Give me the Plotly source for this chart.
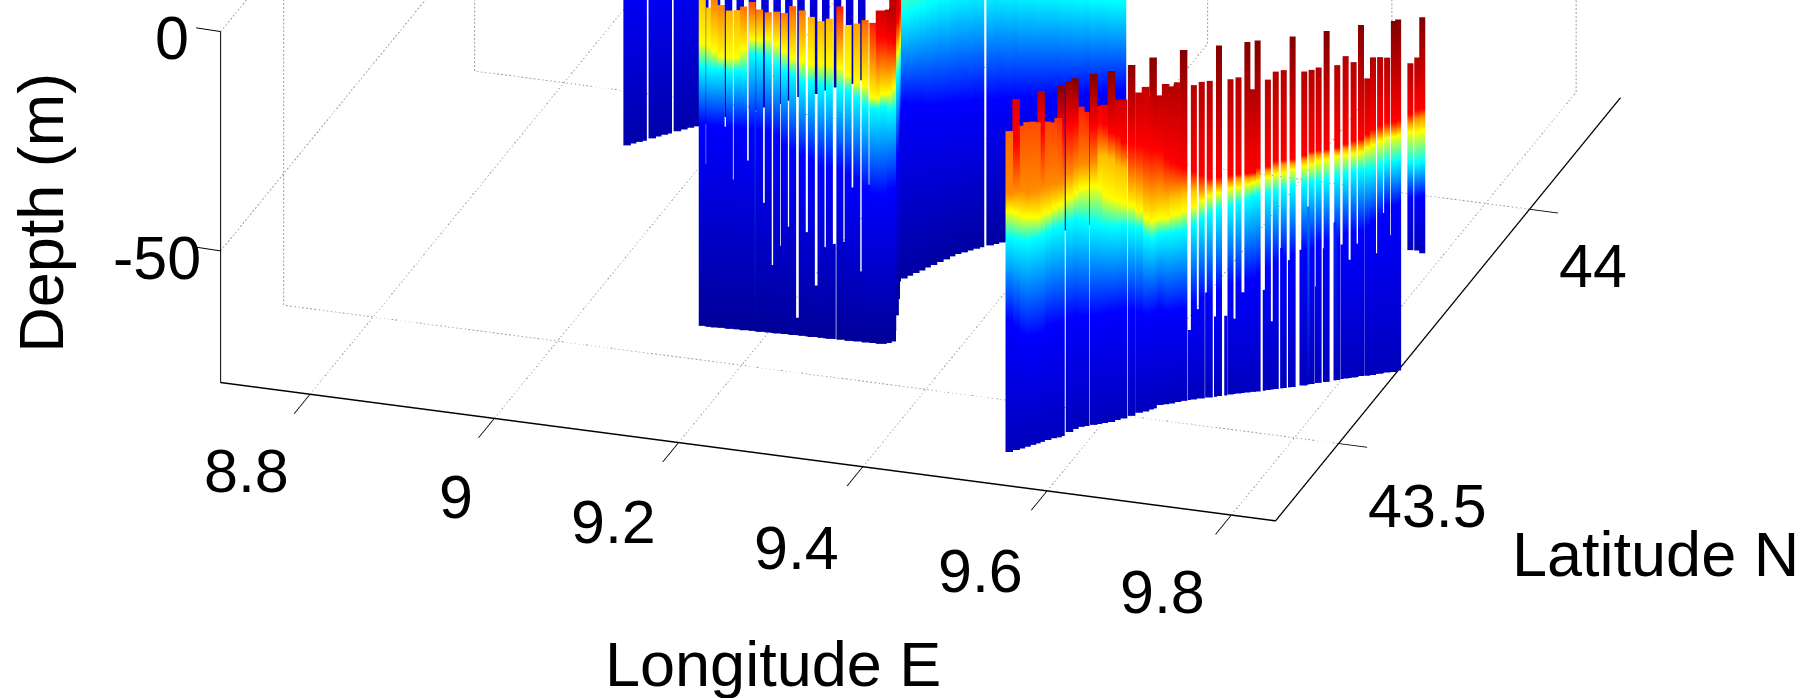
import numpy as np
import plotly.graph_objects as go

# ---- axes ----
X_RANGE = [8.703, 9.848]
Y_RANGE = [43.335, 44.238]
Z_RANGE = [-80, 0]
X_TICKS = [8.8, 9.0, 9.2, 9.4, 9.6, 9.8]
X_LABELS = ["8.8", "9", "9.2", "9.4", "9.6", "9.8"]
Y_TICKS = [43.5, 44.0]
Y_LABELS = ["43.5", "44"]
Z_TICKS = [-50, 0]
Z_LABELS = ["-50", "0"]

# ---- front transect ----
C_lon = [9.532,9.537,9.541,9.545,9.549,9.552,9.555,9.560,9.564,9.568,9.570,9.575,9.578,9.582,9.586,9.593,9.597,9.602,9.608,9.612,9.617,9.623,9.628,9.633,9.636,9.638,9.642,9.647,9.652,9.657,9.662,9.671,9.678,9.685,9.693,9.703,9.710,9.718,9.723,9.727,9.736,9.743,9.750,9.758,9.768,9.774,9.780,9.787,9.796,9.803,9.810,9.816,9.822,9.827,9.833,9.839,9.845,9.848,9.848,9.848,9.848]
C_lat = [43.400,43.406,43.410,43.415,43.420,43.424,43.428,43.433,43.438,43.441,43.444,43.454,43.461,43.467,43.470,43.474,43.477,43.480,43.484,43.489,43.494,43.501,43.509,43.513,43.518,43.521,43.529,43.532,43.535,43.539,43.543,43.548,43.552,43.556,43.561,43.567,43.571,43.575,43.578,43.580,43.585,43.589,43.593,43.597,43.603,43.608,43.612,43.616,43.622,43.627,43.631,43.636,43.638,43.641,43.645,43.649,43.652,43.656,43.688,43.706,43.719]
C_top = [-6.8,0.5,-6.4,-6,-6.3,-6.8,0.9,-7.4,-8,-7.2,0.5,1.6,0,-7,-8.4,0,-7.5,-7.4,0.9,-7,-7.3,1.4,-7,-6,-8.7,1,-9.4,-7,-7.7,-7.1,0.7,-8.3,-7.8,-7.8,0.3,-8.1,-7.9,0.2,-11,0.2,-9.2,-7.6,-7.5,0.5,-8.4,-8.4,-8.1,0.3,-8.2,-6.5,-8.1,0.7,-12.2,-7.6,-7.8,-8.2,0,0.2,-13.4,-14,-6.2]
C_ttop = [.77,.9,.8,.8,.8,.8,.95,.81,.81,.83,1,1,1,.85,.85,1,.88,.9,1,.92,.92,1,.93,.93,.93,1,.94,.95,.95,.95,1,.95,.95,.95,1,.95,.95,1,.95,1,.95,.95,.95,1,.95,.95,.95,1,.95,.95,.95,1,.94,.95,.95,.95,1,1,.95,.95,1]
C_zr = [-6.8,-10,-6.4,-6,-6.3,-6.8,-9,-7.4,-8,-7.2,-10,-10,-10,-7,-8.4,-12,-11,-12,-14,-15,-17,-18,-19,-20,-21,-21,-22,-24,-25,-26,-27,-28,-29,-30,-30,-30,-30,-30,-30,-29,-29,-28,-28,-28,-27.5,-27,-27,-27,-27,-26.5,-26,-26,-25,-24,-23.5,-23,-23,-23,-25,-26,-27]
C_zo = [-21,-21,-21,-22,-22,-22,-22,-22,-22,-22,-22,-21,-20,-20,-20,-20,-19,-19,-20,-22,-23,-29,-30.5,-32.5,-33.5,-33.5,-33.8,-34,-33.5,-33.5,-33,-32.5,-32.5,-32,-32,-31.5,-31,-31,-31,-30.5,-30,-29.5,-29,-29,-28.5,-28,-28,-28,-28,-27.5,-27.5,-27.5,-26.5,-26,-25.5,-25,-25,-25,-27,-28,-29]
C_to = [.74]*16 + [.69]*5 + [.68]*11 + [.73]*29
C_zy = [-25,-26,-27,-27.5,-28,-28.5,-28,-28,-27.5,-27,-27,-26.5,-26,-25.5,-25.5,-25.5,-26,-28,-29,-30,-31,-32,-34,-36,-37,-37,-37.3,-37.5,-37,-37,-36.5,-36,-35,-34,-33.6,-33,-33,-32.5,-32.3,-32,-31.5,-31,-31,-30.4,-30,-30,-29.5,-29.3,-29,-29,-29,-29,-28,-27.5,-27,-26.5,-26.3,-26.3,-29,-31,-32]
C_zc = [-31,-32,-32.5,-33,-33,-33,-33,-32.5,-32,-32,-32,-32,-32,-33,-33.5,-34,-34.5,-35,-35.5,-36,-36,-37,-38,-40,-41,-41,-41,-41,-41,-41,-41,-40,-39,-38,-37.4,-37,-36.5,-36,-35.4,-35.2,-35,-35,-34.5,-34.2,-34,-34,-34,-34,-33.5,-33.5,-33,-33,-33,-33,-32.5,-32,-32,-32,-36,-38,-39]
C_zb = [-50,-52,-54,-55,-55,-55,-55,-54,-54,-54,-54,-54,-54,-55,-55,-55,-55,-55,-55,-55,-55,-56,-57,-58,-58,-58,-58,-59,-59,-59,-59,-58,-57,-57,-56,-55,-55,-54,-54,-53,-52,-51,-50,-50,-49,-49,-48,-48,-48,-47,-47,-47,-46,-45,-44,-42,-42,-42,-44,-46,-47]
C_bot = [-80]*58 + [-56,-58,-60]
C_SPLIT = 31

# deep parts of the front transect that close the gaps between its casts
CF_lon = [9.667,9.674,9.682,9.690,9.699,9.706,9.714,9.733,9.740,9.748,9.755,9.765,9.771,9.778,9.785,9.794,9.800,9.807,9.813,9.824,9.830,9.835,9.841]
CF_lat = [43.546,43.551,43.555,43.559,43.564,43.569,43.573,43.583,43.587,43.592,43.596,43.602,43.606,43.611,43.615,43.621,43.625,43.629,43.633,43.640,43.644,43.647,43.650]
CF_top = [-64,-59.6,-56,-61.7,-61.8,-62.8,-57,-57,-64.4,-48,-51,-49,-39.4,-58,-49.5,-44,-49.3,-53,-49.6,-48.3,-52.5,-43.5,-48.7]
CF_t = [.105,.12,.125,.11,.105,.10,.12,.115,.09,.125,.125,.125,.24,.10,.125,.16,.125,.11,.125,.125,.105,.125,.12]

# ---- middle transect, west-east part ----
B_lon = [9.130,9.138,9.143,9.150,9.159,9.167,9.174,9.183,9.191,9.200,9.209,9.217,9.226,9.236,9.246,9.256,9.265,9.276,9.285,9.294,9.303,9.311,9.318,9.322,9.326,9.329,9.321,9.311,9.299,9.286]
B_lat = [43.566,43.566,43.566,43.567,43.567,43.568,43.568,43.569,43.569,43.570,43.570,43.571,43.571,43.572,43.572,43.573,43.573,43.574,43.574,43.575,43.575,43.576,43.576,43.577,43.580,43.584,43.604,43.635,43.667,43.701]
B_top = [-5,-7.2,-5,-6.4,-7.4,-7.2,-6.2,-5,-6.5,-7,-6.6,-6.8,-5,-5.8,-7,-7.8,-7,-4,-8,-7.5,-6.5,-7,-4,-4,-4,-4,-4,-4,-4,-4]
B_ttop = [.68,.68,.75,.75,.7,.7,.76,.8,.76,.76,.76,.76,.78,.76,.7,.7,.7,.85,.67,.72,.78,.85,.92,.92,.95,.95,.95,.95,.95,.95]
B_zr = [-5,-7.2,-5,-6.4,-7.4,-7.2,-6.2,-5,-6.5,-7,-6.6,-6.8,-5,-5.8,-7,-7.8,-7,-4,-8,-7.5,-6.5,-7,-10,-10,-11,-12,-13,-13,-15,-18]
B_zy = [-15.5,-16,-17,-18.2,-18,-18,-16,-13.5,-13.5,-13,-14,-15.4,-16.8,-17.3,-17.8,-17.5,-17.4,-18,-19.5,-21,-21.5,-24,-24,-23,-23,-22,-20,-20,-22.4,-25]
B_zc = [-21,-21,-21,-21,-21.5,-21,-21,-17,-17,-17.5,-18.7,-20,-20.6,-22,-22,-22.5,-22.7,-23,-23,-24.5,-26,-26.5,-26.5,-26,-27,-27,-25,-25,-27.7,-29.6]
B_zb = [-34,-34,-34,-34,-34,-34,-34,-34,-34,-34,-35,-37,-38,-39,-40,-41,-41,-41,-42,-43,-45,-46,-46,-46,-45,-45,-44,-43,-42,-42]
B_bot = [-80]*30

# deep parts of the middle transect that close the gaps between its casts
BF_lon = [9.134,9.147,9.155,9.162,9.171,9.178,9.187,9.195,9.204,9.213,9.222,9.231,9.241,9.251,9.260,9.270,9.280,9.290,9.298,9.307,9.314]
BF_lat = [43.566,43.567,43.567,43.568,43.568,43.569,43.569,43.570,43.570,43.571,43.571,43.572,43.572,43.573,43.573,43.574,43.575,43.575,43.576,43.576,43.577]
BF_top = [-43,-38,-34,-46,-51,-41.3,-30,-50.6,-64.5,-60,-55.4,-76,-56.2,-68.2,-59.2,-58.3,-57.7,-45,-64,-44,-61]
BF_t = [.10,.11,.125,.095,.085,.105,.17,.085,.05,.06,.07,.02,.075,.045,.06,.065,.07,.125,.05,.125,.07]

# ---- middle transect, northward part ----
D_lon = [9.290,9.293,9.297,9.301,9.304,9.308,9.312,9.316,9.319,9.323,9.328,9.332,9.337,9.340,9.348,9.352,9.357,9.362,9.367,9.372,9.377,9.382,9.387,9.392,9.397,9.402,9.407,9.412,9.416,9.421,9.426,9.431,9.436,9.441,9.446,9.451,9.456]
D_lat = [43.708,43.715,43.722,43.728,43.735,43.742,43.749,43.756,43.763,43.769,43.774,43.779,43.784,43.788,43.794,43.798,43.802,43.806,43.810,43.814,43.818,43.822,43.825,43.829,43.833,43.837,43.841,43.845,43.849,43.853,43.857,43.861,43.864,43.868,43.872,43.876,43.880]
D_zc = [-20,-20,-20,-20,-20,-20,-20,-20.5,-20.5,-20.5,-21,-21,-21,-21.5,-22,-22,-22.5,-23,-23,-24,-24,-24.5,-25,-25,-25.5,-26,-26.5,-27,-27.5,-28,-28,-29,-29,-29.5,-30,-30.5,-31]
D_zb = [-40,-41,-41.5,-42,-43,-43.5,-44,-44.5,-45,-45.5,-45.5,-46,-46,-46.5,-47,-47,-47,-47.5,-47.5,-48,-48,-48.5,-48.5,-49,-49,-49,-49.5,-49.5,-50,-50,-50,-50.5,-50.5,-50.5,-51,-51,-51]

# ---- back transect ----
A_lon = [8.912,8.916,8.921,8.924,8.931,8.935,8.940,8.943,8.950,8.955,8.960,8.964,8.971,8.980,8.989,8.998,9.007,9.017,9.026,9.035,9.044,9.054,9.063,9.072,9.081,9.090]
A_lat = [43.895,43.900,43.905,43.908,43.915,43.920,43.925,43.928,43.935,43.940,43.945,43.949,43.956,43.965,43.975,43.984,43.994,44.003,44.013,44.022,44.032,44.041,44.051,44.060,44.070,44.080]


def casts(lon, lat, profiles):
    xs, ys, zs, cs = [], [], [], []
    for lo, la, prof in zip(lon, lat, profiles):
        for z, t in prof:
            xs.append(lo); ys.append(la); zs.append(z); cs.append(t)
        xs.append(None); ys.append(None); zs.append(None); cs.append(0)
    return xs, ys, zs, cs


JET = [[0, "rgb(0,0,143)"], [.125, "rgb(0,0,255)"], [.375, "rgb(0,255,255)"],
       [.625, "rgb(255,255,0)"], [.875, "rgb(255,0,0)"], [1, "rgb(128,0,0)"]]


def curtain(lon, lat, profiles, width=15):
    xs, ys, zs, cs = casts(lon, lat, profiles)
    return go.Scatter3d(x=xs, y=ys, z=zs, mode="lines", hoverinfo="skip", showlegend=False,
                        line=dict(width=width, color=cs, colorscale=JET, cmin=0, cmax=1))


C_prof = []
for top, tt, zr, zo, to, zy, zc, zb, bot in zip(C_top, C_ttop, C_zr, C_zo, C_to, C_zy, C_zc, C_zb, C_bot):
    p = [(top, tt)]
    if tt > .875:
        p.append((zr, .875))
    p += [(zo, to), (zy, .625), (zc, .375), (zb, .125), (bot, .05)]
    C_prof.append(p)
B_prof = []
for t, tt, zr, zy, zc, zb, bot in zip(B_top, B_ttop, B_zr, B_zy, B_zc, B_zb, B_bot):
    p = [(t, tt)]
    if tt > .875:
        p.append((zr, .875))
    p += [(zy, .625), (zc, .375), (zb, .125), (bot, .01)]
    B_prof.append(p)
D_prof = [[(-5, .6), (zc, .375), (zb, .125), (-80, .02)] for zc, zb in zip(D_zc, D_zb)]
A_prof = [[(-5, .2), (-48, .11), (-80, .03)] for _ in A_lon]
CF_prof = [[(z, t), (-80, .05)] for z, t in zip(CF_top, CF_t)]
BF_prof = [[(z, t), (-80, .01)] for z, t in zip(BF_top, BF_t)]

fig = go.Figure()

# dotted grid on the floor and the two back walls
x0, x1 = X_RANGE; y0, y1 = Y_RANGE; z0, z1 = Z_RANGE
gx, gy, gz = [], [], []


def dotted(a, b, n):
    # split one grid segment into n short dots
    a, b = np.array(a, float), np.array(b, float)
    for i in range(n):
        p = a + (b - a) * i / n
        q = a + (b - a) * (i + .5) / n
        gx.extend([p[0], q[0], None]); gy.extend([p[1], q[1], None]); gz.extend([p[2], q[2], None])


for t in X_TICKS:
    dotted((t, y0, z0), (t, y1, z0), 140); dotted((t, y1, z0), (t, y1, z1), 90)
for t in Y_TICKS:
    dotted((x1, t, z0), (x0, t, z0), 260); dotted((x0, t, z0), (x0, t, z1), 90)
for t in Z_TICKS:
    dotted((x0, y0, t), (x0, y1, t), 140); dotted((x0, y1, t), (x1, y1, t), 260)
fig.add_trace(go.Scatter3d(x=gx, y=gy, z=gz, mode="lines", hoverinfo="skip", showlegend=False,
                           line=dict(color="#999999", width=2)))

fig.add_trace(curtain(A_lon, A_lat, A_prof, 15))
fig.add_trace(curtain(D_lon, D_lat, D_prof, 15))
fig.add_trace(curtain(B_lon, B_lat, B_prof, 14))
fig.add_trace(curtain(BF_lon, BF_lat, BF_prof, 6))
fig.add_trace(curtain(C_lon[:C_SPLIT], C_lat[:C_SPLIT], C_prof[:C_SPLIT], 15))
fig.add_trace(curtain(C_lon[C_SPLIT:], C_lat[C_SPLIT:], C_prof[C_SPLIT:], 12))
fig.add_trace(curtain(CF_lon, CF_lat, CF_prof, 6))

# camera
DIR = np.array([.2846, -.8706, .401])
L = 8.0
CENTER = np.array([0.051, -0.327, -0.7463])
EYE = CENTER + L * DIR

axis = dict(showbackground=False, showgrid=False, zeroline=False, showspikes=False,
            showline=True, linecolor="black", linewidth=3, ticks="outside",
            tickcolor="black", tickwidth=2, showticklabels=False, title=dict(text=""))


def ann(x, y, z, text, dx, dy, size=61, angle=0):
    return dict(x=x, y=y, z=z, text=text, showarrow=False, xanchor="center", yanchor="middle",
                xshift=dx, yshift=dy, textangle=angle, font=dict(family="Liberation Sans", size=size, color="black"))


X_SHIFTS = [(-64, -77), (-38, -79), (-65, -79), (-66, -81), (-67, -80), (-69, -77)]
Y_SHIFTS = [(89, -62), (63, -57)]
Z_SHIFTS = [(-64, -7), (-49, -6)]
annotations = []
for t, s, (dx, dy) in zip(X_TICKS, X_LABELS, X_SHIFTS):
    annotations.append(ann(t, y0, z0, s, dx, dy))
for t, s, (dx, dy) in zip(Y_TICKS, Y_LABELS, Y_SHIFTS):
    annotations.append(ann(x1, t, z0, s, dx, dy))
for t, s, (dx, dy) in zip(Z_TICKS, Z_LABELS, Z_SHIFTS):
    annotations.append(ann(x0, y0, t, s, dx, dy))
    annotations.append(dict(x=x0, y=y0, z=t, text=" ", showarrow=True, arrowhead=0, arrowwidth=1,
                            arrowcolor="black", standoff=0, startstandoff=0, ax=-26, ay=-4,
                            font=dict(size=1)))
annotations.append(ann(9.275, y0, z0, "Longitude E", 25, -212, 63))
annotations.append(ann(x1, 43.8, z0, "Latitude N", 202, -251, 63))
annotations.append(ann(x0, y0, -40, "Depth (m)", -180, -6, 63, -90))

fig.update_layout(
    width=1804, height=698, margin=dict(l=0, r=0, t=0, b=0), paper_bgcolor="white", showlegend=False,
    scene=dict(
        domain=dict(x=[0, 1], y=[0, 1]),
        aspectmode="manual", aspectratio=dict(x=3.18, y=3.18, z=1.0977),
        xaxis=dict(axis, range=X_RANGE, tickvals=X_TICKS, ticklen=30),
        yaxis=dict(axis, range=Y_RANGE, tickvals=Y_TICKS, ticklen=51),
        zaxis=dict(axis, range=Z_RANGE, tickvals=Z_TICKS, ticks="", linewidth=2),
        camera=dict(projection=dict(type="orthographic"), up=dict(x=0, y=0, z=1),
                    center=dict(x=CENTER[0], y=CENTER[1], z=CENTER[2]),
                    eye=dict(x=EYE[0], y=EYE[1], z=EYE[2])),
        annotations=annotations,
    ),
)
fig.write_html("out.html", post_script="document.body.style.margin='0';", config=dict(displayModeBar=False))
